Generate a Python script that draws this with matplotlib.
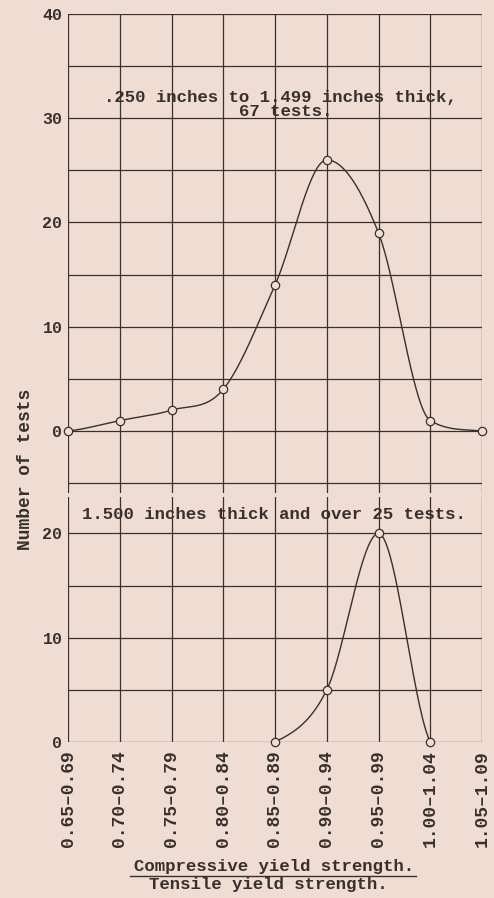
import numpy as np
import matplotlib
matplotlib.use("Agg")
import matplotlib.pyplot as plt

# ratio classes (compressive / tensile yield strength)
classes = ["0.65\u20130.69", "0.70\u20130.74", "0.75\u20130.79", "0.80\u20130.84",
           "0.85\u20130.89", "0.90\u20130.94", "0.95\u20130.99", "1.00\u20131.04",
           "1.05\u20131.09"]

# .250 to 1.499 in. thick, 67 tests
thin_idx = [0, 1, 2, 3, 4, 5, 6, 7, 8]
thin_counts = [0, 1, 2, 4, 14, 26, 19, 1, 0]

# 1.500 in. thick and over, 25 tests
thick_idx = [4, 5, 6, 7]
thick_counts = [0, 5, 20, 0]

BG = "#efddd3"
INK = "#37302c"
FONT = "Liberation Mono"
WT = "bold"


def smooth(x, y, n=60):
    """Cubic Hermite curve through the points (drawing only): Catmull-Rom
    tangents, flattened at peaks and limited so it does not overshoot."""
    x = np.asarray(x, float)
    y = np.asarray(y, float)
    h = np.diff(x)
    d = np.diff(y) / h
    m = np.zeros_like(y)
    m[0] = d[0] * 0.5
    m[-1] = d[-1] * 0.5
    for k in range(1, len(y) - 1):
        if d[k - 1] * d[k] <= 0:
            continue
        mk = (y[k + 1] - y[k - 1]) / (x[k + 1] - x[k - 1])
        lim = 3 * min(abs(d[k - 1]), abs(d[k]))
        m[k] = np.sign(mk) * min(abs(mk), lim)
    xs, ys = [], []
    for k in range(len(h)):
        t = np.linspace(0, 1, n)
        h00 = 2 * t**3 - 3 * t**2 + 1
        h10 = t**3 - 2 * t**2 + t
        h01 = -2 * t**3 + 3 * t**2
        h11 = t**3 - t**2
        xs.append(x[k] + t * h[k])
        ys.append(h00 * y[k] + h10 * h[k] * m[k] + h01 * y[k + 1] + h11 * h[k] * m[k + 1])
    return np.concatenate(xs), np.concatenate(ys)


def style(ax, ylim, yticks, grid_y):
    ax.set_facecolor(BG)
    ax.set_xlim(0, len(classes) - 1)
    ax.set_ylim(*ylim)
    for v in range(len(classes)):
        ax.axvline(v, color=INK, lw=0.9, zorder=1)
    for v in grid_y:
        ax.axhline(v, color=INK, lw=0.9, zorder=1)
    ax.set_yticks(yticks)
    ax.set_yticklabels([str(t) for t in yticks], family=FONT, fontsize=12,
                       weight=WT, color=INK)
    ax.tick_params(axis="y", length=0, pad=4)
    ax.tick_params(axis="x", length=0)
    for s in ax.spines.values():
        s.set_visible(False)


fig = plt.figure(figsize=(4.94, 8.98), dpi=100, facecolor=BG)

ax1 = fig.add_axes([68 / 494, 1 - 492.5 / 898, 414 / 494, 478.5 / 898])
style(ax1, (-5.9, 40), [0, 10, 20, 30, 40], range(-5, 41, 5))
ax1.set_xticks([])
xs, ys = smooth(thin_idx, thin_counts)
ax1.plot(xs, ys, color=INK, lw=1.0, zorder=3, clip_on=False)
ax1.plot(thin_idx, thin_counts, "o", ms=6, mfc=BG, mec=INK, mew=0.9, zorder=4, clip_on=False)
ax1.text(4.1, 32.0, ".250 inches to 1.499 inches thick,", ha="center", va="center",
         family=FONT, fontsize=12.5, weight=WT, color=INK, zorder=5)
ax1.text(4.2, 30.6, "67 tests.", ha="center", va="center",
         family=FONT, fontsize=12.5, weight=WT, color=INK, zorder=5)

ax2 = fig.add_axes([68 / 494, 1 - 742 / 898, 414 / 494, 245 / 898])
style(ax2, (0, 23.5), [0, 10, 20], range(0, 21, 5))
xs, ys = smooth(thick_idx, thick_counts)
ax2.plot(xs, ys, color=INK, lw=1.0, zorder=3, clip_on=False)
ax2.plot(thick_idx, thick_counts, "o", ms=6, mfc=BG, mec=INK, mew=0.9, zorder=4, clip_on=False)
ax2.text(3.98, 21.8, "1.500 inches thick and over 25 tests.", ha="center", va="center",
         family=FONT, fontsize=12.5, weight=WT, color=INK, zorder=5)
ax2.set_xticks(range(len(classes)))
ax2.set_xticklabels(classes, rotation=90, family=FONT, fontsize=13, weight=WT, color=INK)
ax2.tick_params(axis="x", pad=6)

fig.text(25 / 494, 1 - 469 / 898, "Number of tests", rotation=90, ha="center", va="center",
         family=FONT, fontsize=13, weight=WT, color=INK)
fig.text(274 / 494, 1 - 866 / 898, "Compressive yield strength.", ha="center", va="center",
         family=FONT, fontsize=12.5, weight=WT, color=INK)
fig.add_artist(plt.Line2D([130 / 494, 416 / 494], [1 - 876 / 898, 1 - 876 / 898],
                          color=INK, lw=1.0))
fig.text(268 / 494, 1 - 884 / 898, "Tensile yield strength.", ha="center", va="center",
         family=FONT, fontsize=12.5, weight=WT, color=INK)

fig.savefig("out.png", dpi=100, facecolor=BG)
